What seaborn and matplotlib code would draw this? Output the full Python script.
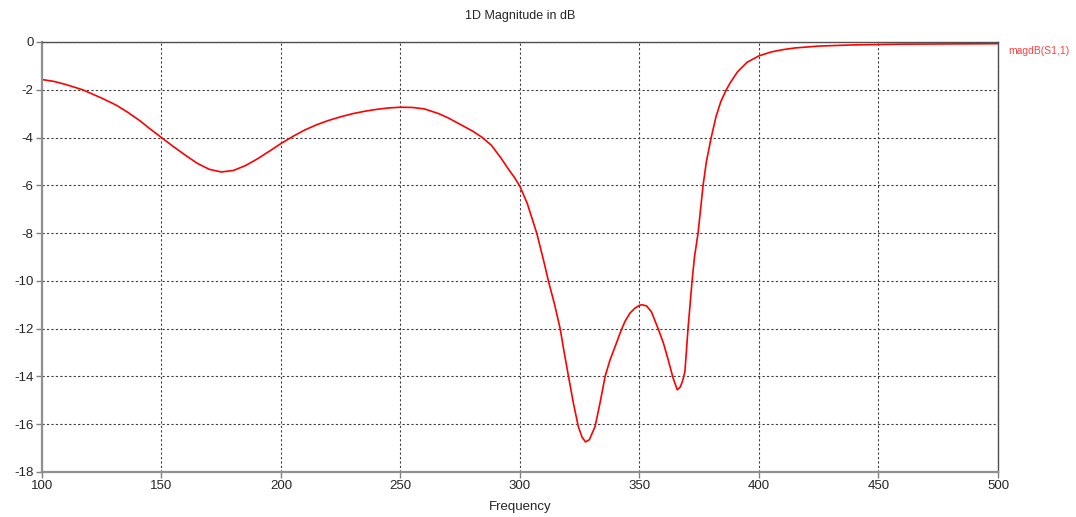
import numpy as np
import pandas as pd
import matplotlib
matplotlib.use('Agg')
import matplotlib.pyplot as plt
import seaborn as sns

# values
freq = [100, 105, 110, 117, 125, 131, 136, 141, 145, 150, 155, 160, 165, 170, 175,
        180, 185, 190, 195, 200, 205, 210, 215, 220, 225, 230, 235, 240, 245, 250,
        255, 260, 266, 270, 275, 280, 284, 288, 292, 295, 298, 300, 303, 307, 310,
        312, 314.5, 316.8, 318.5, 320.3, 322.3, 324.4, 326, 327.4, 329, 331.4, 333.5,
        335.6, 337.7, 339.8, 342, 343.9, 346, 348, 350, 351.1, 353, 355, 357.8, 360,
        362, 364, 365.8, 367, 368, 369, 370.3, 372, 373, 374.5, 376.6, 378, 380, 382,
        384, 386.3, 388, 391, 395, 400, 405, 410, 415, 425, 440, 460, 480, 500]
mag_db = [-1.57, -1.65, -1.78, -2.0, -2.35, -2.64, -2.95, -3.3, -3.62, -4.0, -4.38,
          -4.74, -5.08, -5.33, -5.44, -5.38, -5.18, -4.9, -4.58, -4.25, -3.95, -3.68,
          -3.46, -3.28, -3.13, -3.0, -2.9, -2.82, -2.76, -2.73, -2.74, -2.8, -3.0, -3.18,
          -3.45, -3.72, -3.98, -4.32, -4.85, -5.3, -5.72, -6.05, -6.75, -8.0, -9.2,
          -10.05, -11.0, -12.0, -13.0, -14.0, -15.1, -16.1, -16.55, -16.74, -16.65,
          -16.1, -15.1, -14.0, -13.3, -12.75, -12.15, -11.7, -11.35, -11.15, -11.02,
          -11.0, -11.05, -11.3, -12.0, -12.6, -13.3, -14.05, -14.56, -14.45, -14.2,
          -13.8, -12.0, -10.0, -9.0, -8.0, -6.0, -5.0, -4.0, -3.13, -2.5, -2.0, -1.7,
          -1.25, -0.85, -0.58, -0.42, -0.32, -0.25, -0.17, -0.12, -0.09, -0.08, -0.07]

xticks = [100, 150, 200, 250, 300, 350, 400, 450, 500]
yticks = [0, -2, -4, -6, -8, -10, -12, -14, -16, -18]

df = pd.DataFrame({'Frequency': freq, 'dB': mag_db})

sns.set_style('white')
plt.rcParams['font.family'] = ['Liberation Sans', 'DejaVu Sans']
plt.rcParams['axes.unicode_minus'] = False

fig = plt.figure(figsize=(10.76, 5.17), dpi=100)
ax = fig.add_axes([42 / 1076, 45 / 517, 956 / 1076, 430 / 517])

sns.lineplot(data=df, x='Frequency', y='dB', color='red', linewidth=1.2, ax=ax)

ax.set_xlim(100, 500)
ax.set_ylim(-18, 0)
ax.set_xticks(xticks)
ax.set_yticks(yticks)
ax.grid(True, color='#404040', linestyle=(0, (2, 2)), linewidth=0.8)
ax.tick_params(axis='both', direction='out', length=4, width=1, color='#808080',
               labelsize=9.5, pad=2, left=True, bottom=True)

for side in ['left', 'bottom']:
    ax.spines[side].set_color('#909090')
    ax.spines[side].set_linewidth(1.6)
for side in ['top', 'right']:
    ax.spines[side].set_color('#505050')
    ax.spines[side].set_linewidth(1.0)

ax.set_xlabel('Frequency', fontsize=9.5, labelpad=6)
ax.set_ylabel('')

fig.text(520 / 1076, 1 - 16 / 517, '1D Magnitude in dB', ha='center', va='center', fontsize=9)
fig.text(1008 / 1076, 1 - 51 / 517, 'magdB(S1,1)', ha='left', va='center',
         fontsize=7.5, color='#ff4040')

fig.savefig('out.png', dpi=100)
